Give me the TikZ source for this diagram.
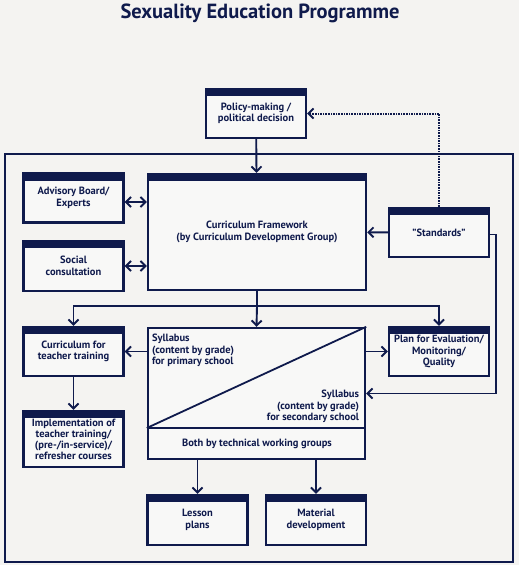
\documentclass[tikz,border=0pt]{standalone}
\usepackage{fontspec}
\setmainfont{PT Sans}
\usetikzlibrary{arrows.meta}
\definecolor{navy}{HTML}{0F1A4C}
\definecolor{paper}{HTML}{F4F3F1}
\definecolor{boxfill}{HTML}{F8F8F7}

\begin{document}
\begin{tikzpicture}[x=1pt,y=-1pt,
  >={Straight Barb[length=5pt,width=10pt,line width=1.9pt]},
  txt/.style={font=\bfseries\fontsize{10.5}{11.5}\selectfont,text=navy,inner sep=1pt},
  hbox/.style={txt,draw=navy,line width=2.4pt,fill=boxfill,minimum width=100pt,minimum height=49pt,align=center,
    path picture={\fill[navy] (path picture bounding box.north west) rectangle ([yshift=-7pt]path picture bounding box.north east);}},
  link/.style={draw=navy,line width=1.9pt},
]
% page and frame
\fill[paper] (0,0) rectangle (519,565);
\useasboundingbox (0,0) rectangle (519,565);
\draw[navy,line width=1.6pt] (5,154) rectangle (513,562);
\node[font=\bfseries\fontsize{20.5}{22}\selectfont,text=navy] (title) at (260,13) {Sexuality Education Programme};
% boxes
\node[hbox] (policy) at (256,113.5) {Policy-making /\\political decision};
\node[hbox] (advisory) at (73.5,198) {Advisory Board/\\Experts};
\node[hbox,minimum height=50pt] (social) at (73.5,266) {Social\\consultation};
\node[hbox,minimum width=218pt,minimum height=116pt] (cf) at (257,232) {Curriculum Framework\\(by Curriculum Development Group)};
\node[hbox] (standards) at (439,232.5) {"Standards"};
\node[hbox] (teacher) at (73.5,351.5) {Curriculum for\\teacher training};
\node[hbox,minimum height=56pt,font=\bfseries\fontsize{10.5}{11}\selectfont] (impl) at (73.5,439) {\\[-3pt]Implementation of\\teacher training/\\(pre-/in-service)/\\refresher courses};
\node[hbox] (plan) at (439,351.5) {Plan for Evaluation/\\Monitoring/\\Quality};
\node[hbox,minimum height=50pt] (lesson) at (197.5,520) {Lesson\\plans};
\node[hbox,minimum height=50pt] (material) at (316,520) {Material\\development};
% syllabus box (split)
\node[draw=navy,line width=2.4pt,fill=boxfill,minimum width=217pt,minimum height=131pt] (syllabus) at (256.5,393.5) {};
\coordinate (divl) at (syllabus.west |- 0,428);
\coordinate (divr) at (syllabus.east |- 0,428);
\draw[navy,line width=2.4pt] (divl) -- (divr);
\draw[navy,line width=1.8pt] (divl) -- (syllabus.north east);
\node[txt,align=left,anchor=north west] (primary) at ([xshift=4pt,yshift=-6pt]syllabus.north west) {Syllabus\\(content by grade)\\for primary school};
\node[txt,align=right,anchor=south east] (secondary) at ([xshift=-6pt,yshift=4pt]divr) {Syllabus\\(content by grade)\\for secondary school};
\node[txt] (groups) at (257,444) {Both by technical working groups};
% connectors
\draw[link,->] (policy) -- (cf);
\draw[link,<->] ([yshift=-4pt]advisory.east) -- ([yshift=-4pt]advisory.east -| cf.west);
\draw[link,<->] (social.east) -- (social.east -| cf.west);
\draw[link,->] (standards) -- (cf);
\draw[link,->,line width=2pt,dash pattern=on 1.6pt off 1pt] (standards.north) |- (policy.east);
\draw[link,->] ([yshift=-2pt]standards.east) -- ++(6,0) |- (syllabus.east);
\coordinate (split) at (cf.south |- 0,306);
\draw[link] (cf.south) -- (split);
\draw[link,->] (split) -| (teacher.north);
\draw[link,->] (split) -| (plan.north);
\draw[link,->] (split) -- (syllabus.north);
\draw[link,->] (syllabus.west |- teacher.east) -- (teacher.east);
\draw[link,->] (syllabus.east |- plan.west) -- (plan.west);
\draw[link,->] (teacher) -- (impl);
\draw[link,->] (syllabus.south -| lesson.north) -- (lesson.north);
\draw[link,->] (syllabus.south -| material.north) -- (material.north);
\end{tikzpicture}
\end{document}
